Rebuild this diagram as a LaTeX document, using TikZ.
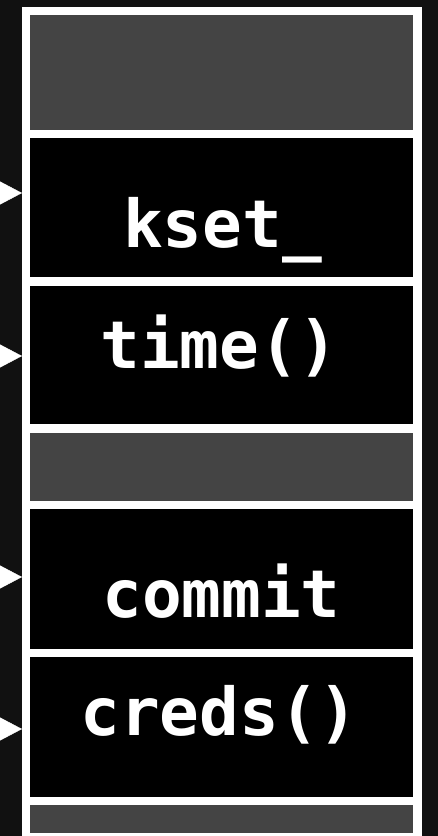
\documentclass[tikz,border=0pt]{standalone}
\usepackage{fontspec}
\newfontfamily\codefont{DejaVu Sans Mono}
\usetikzlibrary{arrows.meta}
\definecolor{backdrop}{HTML}{111111}
\definecolor{slotgray}{HTML}{444444}
\tikzset{
  slot/.style={minimum width=383.3pt,inner sep=0pt,outer sep=0pt},
  usedslot/.style={slot,fill=black},
  freeslot/.style={slot,fill=slotgray},
  symtext/.style={text=white,font=\codefont\bfseries\fontsize{66}{66}\selectfont,anchor=base,inner sep=0pt},
  ptr/.style={white,-{Triangle[length=22pt,width=23pt]}},
}

\begin{document}
\begin{tikzpicture}[x=1pt,y=-1pt]
  \fill[backdrop] (0,0) rectangle (438,836);
  \useasboundingbox (0,0) rectangle (438,836);
  \fill[white] (22,6.7) rectangle (421.7,836);
  % slots, top to bottom
  \node[freeslot,minimum height=115pt] (free0) at (221.65,72.5) {};
  \node[usedslot,minimum height=139pt] (sym0) at (221.65,207.5) {};
  \node[usedslot,minimum height=138pt] (sym1) at (221.65,355) {};
  \node[freeslot,minimum height=68pt] (free1) at (221.65,466.7) {};
  \node[usedslot,minimum height=140pt] (sym2) at (221.65,579) {};
  \node[usedslot,minimum height=140pt] (sym3) at (221.65,727) {};
  \node[freeslot,minimum height=28pt] (free2) at (221.65,819) {};
  % names split over the slots
  \node[symtext] (lab0) at (222.5,247) {kset\_};
  \node[symtext] (lab1) at (219.5,368) {time()};
  \node[symtext] (lab2) at (221.5,617) {commit};
  \node[symtext] (lab3) at (219.5,735) {creds()};
  % pointers
  \foreach \y/\n in {193/0,356/1,577/2,729/3}{
    \coordinate (from\n) at (0,\y);
    \coordinate (to\n) at (22,\y);
    \draw[ptr] (from\n) -- (to\n);
  }
\end{tikzpicture}
\end{document}
